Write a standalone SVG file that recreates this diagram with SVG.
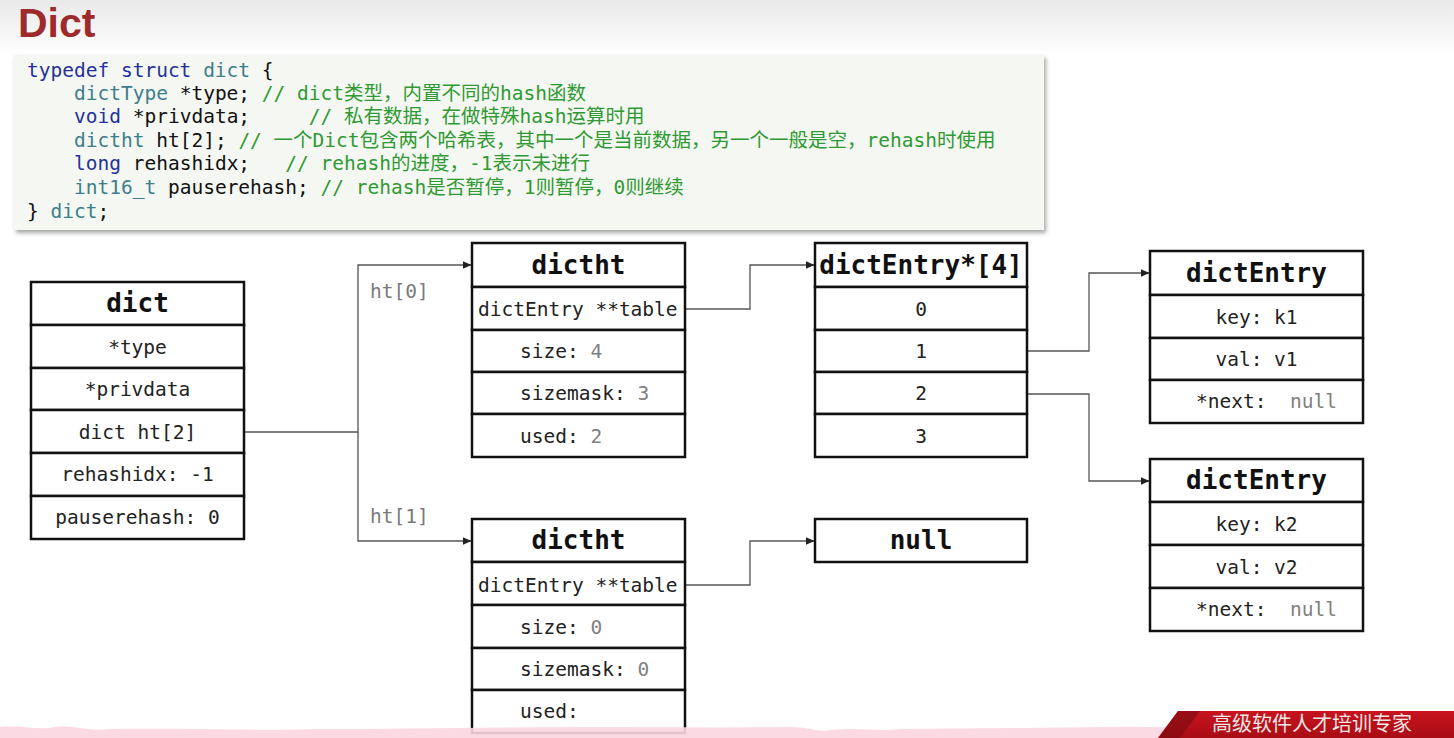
<svg xmlns="http://www.w3.org/2000/svg" width="1454" height="738" viewBox="0 0 1454 738">
<defs>
<linearGradient id="topbg" x1="0" y1="0" x2="0" y2="1">
<stop offset="0" stop-color="#e9e9e9"/>
<stop offset="1" stop-color="#ffffff"/>
</linearGradient>
<linearGradient id="banner" x1="0" y1="0" x2="0" y2="1">
<stop offset="0" stop-color="#c8141e"/>
<stop offset="1" stop-color="#a80c14"/>
</linearGradient>
<filter id="shadow" x="-5%" y="-10%" width="110%" height="125%">
<feDropShadow dx="2" dy="3" stdDeviation="2" flood-color="#000" flood-opacity="0.35"/>
</filter>
<marker id="arr" markerWidth="9" markerHeight="8" refX="8.5" refY="4" orient="auto" markerUnits="userSpaceOnUse">
<path d="M0,0 L9,4 L0,8 Z" fill="#222"/>
</marker>
<style>
.code{font-family:"DejaVu Sans Mono","Noto Sans CJK SC",monospace;font-size:19.5px;fill:#111;}
.kw{fill:#23329a;}
.ty{fill:#3d7e8c;}
.cm{fill:#2f9a33;}
.box{fill:#fff;stroke:#111;stroke-width:2.5;}
.hd{font-family:"DejaVu Sans Mono",monospace;font-size:26px;font-weight:bold;fill:#111;text-anchor:middle;}
.t{font-family:"DejaVu Sans Mono",monospace;font-size:19.5px;fill:#222;}
.c{text-anchor:middle;}
.g{fill:#808080;}
.conn{fill:none;stroke:#555;stroke-width:1.3;}
.lbl{font-family:"DejaVu Sans Mono",monospace;font-size:19.5px;fill:#7a7a7a;}
</style>
</defs>
<rect x="0" y="0" width="1454" height="738" fill="#fff"/>
<rect x="0" y="0" width="1454" height="55" fill="url(#topbg)"/>
<text x="18" y="37" font-family="'Liberation Sans',Arial,sans-serif" font-weight="bold" font-size="41" fill="#9e2a2b">Dict</text>

<g id="code">
<rect x="14" y="55" width="1030" height="175" fill="#f5f7f2" filter="url(#shadow)"/>
<text class="code" xml:space="preserve" x="27" y="77"><tspan class="kw">typedef struct</tspan> <tspan class="ty">dict</tspan> {</text>
<text class="code" xml:space="preserve" x="74" y="100"><tspan class="ty">dictType</tspan> *type; <tspan class="cm">// dict类型，内置不同的hash函数</tspan></text>
<text class="code" xml:space="preserve" x="74" y="123"><tspan class="kw">void</tspan> *privdata;     <tspan class="cm">// 私有数据，在做特殊hash运算时用</tspan></text>
<text class="code" xml:space="preserve" x="74" y="147"><tspan class="ty">dictht</tspan> ht[2]; <tspan class="cm">// 一个Dict包含两个哈希表，其中一个是当前数据，另一个一般是空，rehash时使用</tspan></text>
<text class="code" xml:space="preserve" x="74" y="170"><tspan class="kw">long</tspan> rehashidx;   <tspan class="cm">// rehash的进度，-1表示未进行</tspan></text>
<text class="code" xml:space="preserve" x="74" y="194"><tspan class="ty">int16_t</tspan> pauserehash; <tspan class="cm">// rehash是否暂停，1则暂停，0则继续</tspan></text>
<text class="code" xml:space="preserve" x="27" y="218">} <tspan class="ty">dict</tspan>;</text>
</g>

<g id="connectors">
<path class="conn" d="M244,432 H358 V265 H471" marker-end="url(#arr)"/>
<path class="conn" d="M358,432 V541 H471" marker-end="url(#arr)"/>
<path class="conn" d="M685,309 H750 V265 H814" marker-end="url(#arr)"/>
<path class="conn" d="M685,585 H750 V541 H814" marker-end="url(#arr)"/>
<path class="conn" d="M1027,351 H1089 V273 H1149" marker-end="url(#arr)"/>
<path class="conn" d="M1027,394 H1089 V481 H1149" marker-end="url(#arr)"/>
<text class="lbl" x="370" y="298">ht[0]</text>
<text class="lbl" x="370" y="523">ht[1]</text>
</g>

<g id="dict">
<rect class="box" x="31" y="282" width="213" height="43"/>
<rect class="box" x="31" y="325" width="213" height="43"/>
<rect class="box" x="31" y="368" width="213" height="42"/>
<rect class="box" x="31" y="410" width="213" height="43"/>
<rect class="box" x="31" y="453" width="213" height="43"/>
<rect class="box" x="31" y="496" width="213" height="43"/>
<text class="hd" x="137.5" y="312">dict</text>
<text class="t c" x="137.5" y="354">*type</text>
<text class="t c" x="137.5" y="396">*privdata</text>
<text class="t c" x="137.5" y="439">dict ht[2]</text>
<text class="t c" x="137.5" y="481">rehashidx: -1</text>
<text class="t c" x="137.5" y="524">pauserehash: 0</text>
</g>

<g id="dictht0">
<rect class="box" x="472" y="243" width="213" height="44"/>
<rect class="box" x="472" y="287" width="213" height="43"/>
<rect class="box" x="472" y="330" width="213" height="42"/>
<rect class="box" x="472" y="372" width="213" height="42"/>
<rect class="box" x="472" y="414" width="213" height="43"/>
<text class="hd" x="578.5" y="274">dictht</text>
<text class="t" x="478" y="316">dictEntry **table</text>
<text class="t" x="520" y="358">size: <tspan class="g">4</tspan></text>
<text class="t" x="520" y="400">sizemask: <tspan class="g">3</tspan></text>
<text class="t" x="520" y="443">used: <tspan class="g">2</tspan></text>
</g>

<g id="dictht1">
<rect class="box" x="472" y="519" width="213" height="43"/>
<rect class="box" x="472" y="562" width="213" height="43"/>
<rect class="box" x="472" y="605" width="213" height="43"/>
<rect class="box" x="472" y="648" width="213" height="42"/>
<rect class="box" x="472" y="690" width="213" height="43"/>
<text class="hd" x="578.5" y="549">dictht</text>
<text class="t" x="478" y="592">dictEntry **table</text>
<text class="t" x="520" y="634">size: <tspan class="g">0</tspan></text>
<text class="t" x="520" y="676">sizemask: <tspan class="g">0</tspan></text>
<text class="t" x="520" y="718">used:</text>
</g>

<g id="array">
<rect class="box" x="815" y="243" width="212" height="44"/>
<rect class="box" x="815" y="287" width="212" height="43"/>
<rect class="box" x="815" y="330" width="212" height="42"/>
<rect class="box" x="815" y="372" width="212" height="42"/>
<rect class="box" x="815" y="414" width="212" height="43"/>
<text class="hd" x="921" y="274">dictEntry*[4]</text>
<text class="t c" x="921" y="316">0</text>
<text class="t c" x="921" y="358">1</text>
<text class="t c" x="921" y="400">2</text>
<text class="t c" x="921" y="443">3</text>
</g>

<g id="null">
<rect class="box" x="815" y="519" width="212" height="43"/>
<text class="hd" x="921" y="549">null</text>
</g>

<g id="entry1">
<rect class="box" x="1150" y="251" width="213" height="44"/>
<rect class="box" x="1150" y="295" width="213" height="43"/>
<rect class="box" x="1150" y="338" width="213" height="42"/>
<rect class="box" x="1150" y="380" width="213" height="43"/>
<text class="hd" x="1256.5" y="282">dictEntry</text>
<text class="t c" x="1256.5" y="324">key: k1</text>
<text class="t c" x="1256.5" y="366">val: v1</text>
<text class="t" xml:space="preserve" x="1196" y="408">*next:  <tspan class="g">null</tspan></text>
</g>

<g id="entry2">
<rect class="box" x="1150" y="459" width="213" height="43"/>
<rect class="box" x="1150" y="502" width="213" height="43"/>
<rect class="box" x="1150" y="545" width="213" height="43"/>
<rect class="box" x="1150" y="588" width="213" height="43"/>
<text class="hd" x="1256.5" y="489">dictEntry</text>
<text class="t c" x="1256.5" y="531">key: k2</text>
<text class="t c" x="1256.5" y="574">val: v2</text>
<text class="t" xml:space="preserve" x="1196" y="616">*next:  <tspan class="g">null</tspan></text>
</g>

<path d="M0,727 C20,724 35,731 55,727 C70,724 85,732 110,729 C200,728 260,731 320,729 C400,729 500,727 600,727 C660,727 720,728 790,727 C810,727 820,733 830,730 C860,727 880,732 900,729 C1000,728 1050,728 1100,727 C1150,726 1180,729 1220,726 C1300,725 1380,727 1454,726 L1454,738 L0,738 Z" fill="#fbd6e0" opacity="0.9"/>
<g id="banner">
<polygon points="1178,711 1454,711 1454,738 1158,738" fill="url(#banner)"/>
<polygon points="1178,711 1200,711 1180,738 1158,738" fill="#7a0a10" opacity="0.6"/>
<text x="1212" y="731" font-family="'Noto Sans CJK SC',sans-serif" font-size="20" fill="#f4e6e6">高级软件人才培训专家</text>
</g>
</svg>
